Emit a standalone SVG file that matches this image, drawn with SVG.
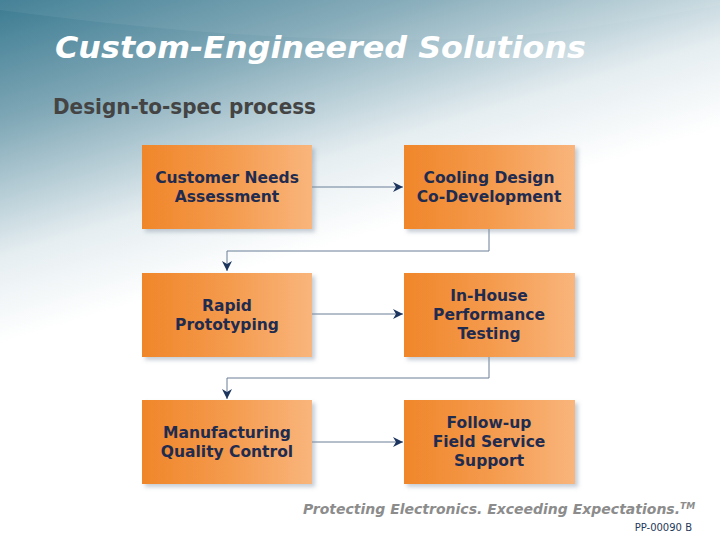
<svg xmlns="http://www.w3.org/2000/svg" width="720" height="540" viewBox="0 0 720 540">
<defs>
<linearGradient id="bg" x1="0" y1="0" x2="0.22" y2="0.55">
<stop offset="0" stop-color="#3A7A91"/>
<stop offset="0.35" stop-color="#7FA7B6"/>
<stop offset="0.75" stop-color="#E6EEF1"/>
<stop offset="1" stop-color="#FFFFFF"/>
</linearGradient>
<linearGradient id="box" x1="0" y1="0" x2="1" y2="0">
<stop offset="0" stop-color="#F0862A"/>
<stop offset="0.5" stop-color="#F49A4C"/>
<stop offset="1" stop-color="#F9B57C"/>
</linearGradient>
<filter id="sh" x="-10%" y="-10%" width="130%" height="130%">
<feDropShadow dx="3" dy="3" stdDeviation="2" flood-color="#8090A0" flood-opacity="0.45"/>
</filter>
<marker id="arr" markerWidth="12" markerHeight="12" refX="10" refY="5" orient="auto" markerUnits="userSpaceOnUse">
<path d="M0,0 L10,5 L0,10 L3,5 Z" fill="#1B355E"/>
</marker>
<style>
.box{fill:url(#box);filter:url(#sh)}
.lbl{font-family:"DejaVu Sans",Verdana,sans-serif;font-weight:bold;font-size:15.5px;fill:#1F2B4F;text-anchor:middle}
.con{fill:none;stroke:#6A7E98;stroke-width:1;marker-end:url(#arr)}
</style>
</defs>
<rect width="720" height="540" fill="url(#bg)"/>
<path d="M0,10 C150,30 320,45 480,38 C560,34 640,20 720,5 L720,0 L0,0 Z" fill="#FFFFFF" opacity="0.06"/>
<text x="55" y="58" font-family="DejaVu Sans,Verdana,sans-serif" font-weight="bold" font-style="italic" font-size="31" fill="#FFFFFF" textLength="531" lengthAdjust="spacingAndGlyphs">Custom-Engineered Solutions</text>
<text x="53" y="114" font-family="DejaVu Sans,Verdana,sans-serif" font-weight="bold" font-size="21" fill="#444444" textLength="263" lengthAdjust="spacingAndGlyphs">Design-to-spec process</text>
<g id="connectors">
<path class="con" d="M312,187 H403"/>
<path class="con" d="M489,229 V251 H227 V271"/>
<path class="con" d="M312,314 H403"/>
<path class="con" d="M489,357 V378 H227 V399"/>
<path class="con" d="M312,442 H403"/>
</g>
<g id="n1"><rect class="box" x="142" y="145" width="170" height="84"/><text class="lbl" x="227" y="183">Customer Needs</text><text class="lbl" x="227" y="202">Assessment</text></g>
<g id="n2"><rect class="box" x="404" y="145" width="171" height="84"/><text class="lbl" x="489" y="183">Cooling Design</text><text class="lbl" x="489" y="202">Co-Development</text></g>
<g id="n3"><rect class="box" x="142" y="273" width="170" height="84"/><text class="lbl" x="227" y="311">Rapid</text><text class="lbl" x="227" y="330">Prototyping</text></g>
<g id="n4"><rect class="box" x="404" y="273" width="171" height="84"/><text class="lbl" x="489" y="301">In-House</text><text class="lbl" x="489" y="320">Performance</text><text class="lbl" x="489" y="339">Testing</text></g>
<g id="n5"><rect class="box" x="142" y="400" width="170" height="84"/><text class="lbl" x="227" y="438">Manufacturing</text><text class="lbl" x="227" y="457">Quality Control</text></g>
<g id="n6"><rect class="box" x="404" y="400" width="171" height="84"/><text class="lbl" x="489" y="428">Follow-up</text><text class="lbl" x="489" y="447">Field Service</text><text class="lbl" x="489" y="466">Support</text></g>
<text x="303" y="514" font-family="DejaVu Sans,Verdana,sans-serif" font-weight="bold" font-style="italic" font-size="14" fill="#8C8C8C">Protecting Electronics. Exceeding Expectations.<tspan font-size="9" dy="-5">TM</tspan></text>
<text x="692" y="531" font-family="DejaVu Sans,Verdana,sans-serif" font-size="10" fill="#1F3A5A" text-anchor="end">PP-00090 B</text>
</svg>
